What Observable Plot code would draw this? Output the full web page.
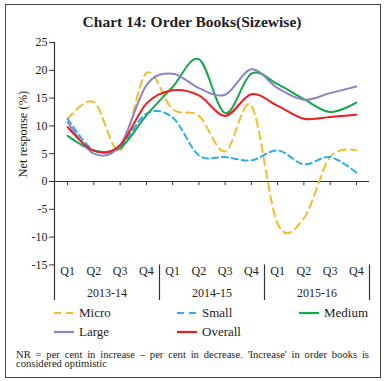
<!DOCTYPE html>
<html>
<head>
<meta charset="utf-8">
<script src="https://cdn.jsdelivr.net/npm/d3@7"></script>
<script src="https://cdn.jsdelivr.net/npm/@observablehq/plot@0.6"></script>
<style>
  html, body { margin: 0; padding: 0; background: #fff; }
  body { width: 384px; height: 381px; position: relative; overflow: hidden; font-family: "Liberation Serif", "DejaVu Serif", serif; color: #222; }
  #frame { position: absolute; left: 5px; top: 4px; width: 376px; height: 374px; box-sizing: border-box; border: 1.2px solid #444; }
  #title { position: absolute; left: 0; top: 13px; width: 384px; text-align: center; font-weight: bold; font-size: 15.5px; line-height: 18px; }
  #chart { position: absolute; left: 0; top: 0; }
  .leg { position: absolute; font-size: 13px; line-height: 14px; white-space: nowrap; }
  .leg svg { position: absolute; left: 0; top: 5px; }
  .leg span { position: absolute; left: 25px; top: 0; }
  #note { position: absolute; left: 16px; top: 351px; width: 353px; font-size: 10.6px; line-height: 8.8px; text-align: justify; }
</style>
</head>
<body>
<div id="frame"></div>
<div id="title">Chart 14: Order Books(Sizewise)</div>
<div id="chart"></div>
<div id="legend"></div>
<div id="note">NR = per cent in increase – per cent in decrease. 'Increase' in order books is considered optimistic</div>
<script>
const quarters = ["Q1","Q2","Q3","Q4","Q1","Q2","Q3","Q4","Q1","Q2","Q3","Q4"];
const years = ["2013-14","2014-15","2015-16"];
const micro   = [11.2, 14.3, 5.6, 19.5, 13.0, 11.8, 5.4, 13.6, -7.6, -6.6, 4.4, 5.6];
const small   = [11.3, 5.6, 6.3, 12.2, 11.5, 4.7, 4.4, 3.8, 5.6, 3.1, 4.4, 1.6];
const medium  = [8.2, 5.6, 6.0, 11.9, 17.0, 22.0, 12.3, 19.4, 17.5, 14.8, 12.5, 14.2];
const large   = [10.7, 5.0, 6.5, 17.3, 19.4, 16.8, 15.6, 20.2, 16.8, 14.7, 15.9, 17.1];
const overall = [9.8, 5.5, 6.5, 14.0, 16.4, 15.5, 11.8, 15.7, 13.6, 11.3, 11.6, 12.0];
const seriesNames = ["Micro","Small","Medium","Large","Overall"];
const yTicks = [-15, -10, -5, 0, 5, 10, 15, 20, 25];

const seriesValues = [micro, small, medium, large, overall];
const colors = ["#F2BD2C", "#2DAEE6", "#13A84C", "#8E83C7", "#EE1C25"];
const dashes = ["8,5", "6,4", null, null, null];

const idx = quarters.map((_, i) => i);
const font = "Liberation Serif, DejaVu Serif, serif";
const yMin = -21.4, yMax = 25;

const lineMarks = seriesValues.map((vals, k) =>
  Plot.line(vals.map((v, i) => ({i, v})), {
    x: "i", y: "v", stroke: colors[k], strokeWidth: 2,
    strokeDasharray: dashes[k] || undefined,
    curve: "cardinal", tension: 0
  })
);

const yearIdx = years.map((_, k) => k * 4 + 1.5);
const sepIdx = years.map((_, k) => k * 4 + 3.5);

const chart = Plot.plot({
  width: 384, height: 301,
  marginTop: 42, marginBottom: 1, marginLeft: 54, marginRight: 15,
  style: {fontFamily: font, fontSize: "12px", color: "#222", background: "transparent"},
  x: {type: "linear", domain: [-0.5, 11.5], axis: null},
  y: {domain: [yMin, yMax], axis: null},
  marks: [
    Plot.axisY({ticks: yTicks, tickSize: 5, tickPadding: 2, tickFormat: d => String(d), label: null, stroke: "#333", fontSize: 12}),
    Plot.ruleX([-0.5], {y1: yMin, y2: yMax, stroke: "#333", strokeWidth: 1.2}),
    Plot.ruleY([0], {x1: -0.5, x2: 11.5, stroke: "#333", strokeWidth: 1.2}),
    Plot.ruleX(idx, {x: d => d, y1: 0, y2: -0.75, stroke: "#333"}),
    Plot.ruleX(sepIdx, {x: d => d, y1: -15, y2: yMin, stroke: "#333", strokeWidth: 1.2}),
    Plot.text(idx, {x: d => d, y: -16.1, text: d => quarters[d], fontSize: 12, fill: "#222"}),
    Plot.text(yearIdx, {x: d => d, y: -20.1, text: (d, i) => years[i], fontSize: 12, fill: "#222"}),
    Plot.text(["Net response (%)"], {frameAnchor: "left", dx: -32, dy: 6, rotate: -90, fontSize: 12.5, fill: "#222"}),
    ...lineMarks
  ]
});
document.getElementById("chart").appendChild(chart);

// legend
const legPos = [[54, 306], [177, 306], [299, 306], [54, 325], [177, 325]];
const legend = document.getElementById("legend");
seriesNames.forEach((name, k) => {
  const d = document.createElement("div");
  d.className = "leg";
  d.style.left = legPos[k][0] + "px";
  d.style.top = legPos[k][1] + "px";
  const dash = dashes[k] ? `stroke-dasharray="7,5"` : "";
  d.innerHTML = `<svg width="20" height="4"><line x1="0" y1="2" x2="20" y2="2" stroke="${colors[k]}" stroke-width="2.2" ${dash}/></svg><span>${name}</span>`;
  legend.appendChild(d);
});
</script>
</body>
</html>
